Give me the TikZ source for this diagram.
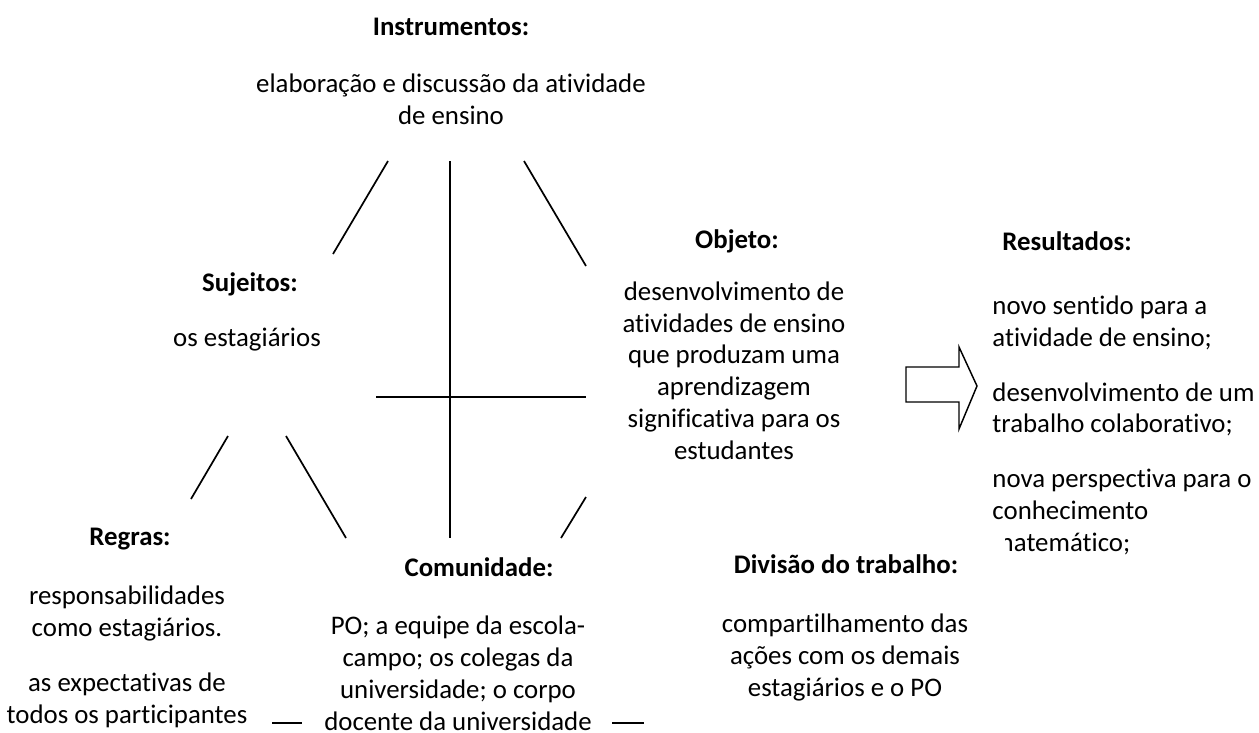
\documentclass[tikz,border=0pt]{standalone}
\usepackage{fontspec}
\setmainfont{Carlito}[RawFeature={-liga}]
\usetikzlibrary{positioning}

\begin{document}
\begin{tikzpicture}[
  x=0.41pt, y=-0.41pt,
  every node/.style={inner sep=0pt, font=\fontsize{11}{13}\selectfont},
  hdr/.style={font=\fontsize{11}{13}\selectfont\bfseries, anchor=base},
  txt/.style={align=center, anchor=base},
  txtl/.style={align=left, anchor=base west},
  seg/.style={line width=0.7pt},
  blockarrow/.style={draw, line width=0.6pt, fill=white, line join=miter}
]
  \useasboundingbox (0,0) rectangle (1259,733);

  % headings
  \node[hdr] (hInst) at (451,36)  {Instrumentos:};
  \node[hdr] (hSuj)  at (250,291) {Sujeitos:};
  \node[hdr] (hObj)  at (737,248) {Objeto:};
  \node[hdr, anchor=base west] (hRes) at (1002,250) {Resultados:};
  \node[hdr] (hReg)  at (130,545) {Regras:};
  \node[hdr] (hCom)  at (479,576) {Comunidade:};
  \node[hdr] (hDiv)  at (846,573) {Divisão do trabalho:};

  % contents (placed at the baseline of their last line)
  \node[txt] (tInst) at (451,124) {elaboração e discussão da atividade\\ de ensino};
  \node[txt] (tSuj)  at (247,346) {os estagiários};
  \node[txt] (tObj)  at (734,459) {desenvolvimento de\\ atividades de ensino\\ que produzam uma\\
    aprendizagem\\ significativa para os\\ estudantes};
  \node[txt] (tReg)  at (127,723) {responsabilidades\\ como estagiários.\\[9.5pt]
    as expectativas de\\ todos os participantes};
  \node[txt] (tCom)  at (458,730) {PO; a equipe da escola-\\ campo; os colegas da\\
    universidade; o corpo\\ docente da universidade};
  \node[txt] (tDiv)  at (845,696) {compartilhamento das\\ ações com os demais\\ estagiários e o PO};
  \begin{scope}
    \clip (980,260) -- (1280,260) -- (1280,733) -- (1005,733) -- (1005,532) -- (980,532) -- cycle;
    \node[txtl] (tRes) at (992,551) {novo sentido para a\\ atividade de ensino;\\[9.5pt]
      desenvolvimento de um\\ trabalho colaborativo;\\[9.5pt]
      nova perspectiva para o\\ conhecimento\\ matemático;};
  \end{scope}

  % triangle segments
  \coordinate (a1) at (388,161); \coordinate (a2) at (333,254);
  \coordinate (v1) at (450,161); \coordinate (v2) at (450,538);
  \coordinate (c1) at (524,161); \coordinate (c2) at (586,266);
  \coordinate (h1) at (376,397); \coordinate (h2) at (586,397);
  \coordinate (d1) at (228,436); \coordinate (d2) at (191,499);
  \coordinate (e1) at (286,436); \coordinate (e2) at (346,538);
  \coordinate (f1) at (586,497); \coordinate (f2) at (561,538);
  \coordinate (g1) at (272,723); \coordinate (g2) at (302,723);
  \coordinate (k1) at (612,723); \coordinate (k2) at (644,723);

  \draw[seg] (a1) -- (a2);
  \draw[seg] (v1) -- (v2);
  \draw[seg] (c1) -- (c2);
  \draw[seg] (h1) -- (h2);
  \draw[seg] (d1) -- (d2);
  \draw[seg] (e1) -- (e2);
  \draw[seg] (f1) -- (f2);
  \draw[seg] (g1) -- (g2);
  \draw[seg] (k1) -- (k2);

  % block arrow to the results
  \coordinate (arw) at (906,367);
  \draw[blockarrow] (arw) -- ++(53,0) -- ++(0,-20) -- ++(18,39) -- ++(-18,43)
    -- ++(0,-27) -- ++(-53,0) -- cycle;
\end{tikzpicture}
\end{document}
